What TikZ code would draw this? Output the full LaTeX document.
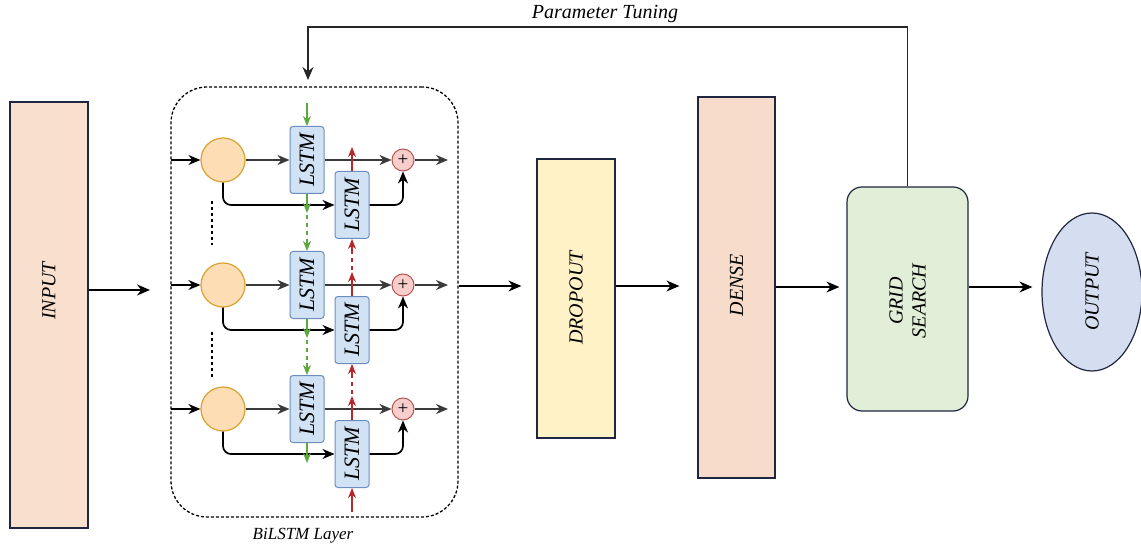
\documentclass[tikz,border=0pt]{standalone}
\usepackage{fontspec}
\setmainfont{Liberation Serif}
\usetikzlibrary{arrows.meta,calc,shapes.geometric}
\definecolor{navy}{HTML}{1F2740}
\definecolor{peach}{HTML}{F9E0CE}
\definecolor{peachb}{HTML}{F8DCCB}
\definecolor{yel}{HTML}{FFF2C6}
\definecolor{grn}{HTML}{E2EFD8}
\definecolor{blu}{HTML}{D5DEF0}
\definecolor{lstmf}{HTML}{D0E2F4}
\definecolor{lstmb}{HTML}{6C8EBF}
\definecolor{cellf}{HTML}{FDDDB4}
\definecolor{cellb}{HTML}{D9A232}
\definecolor{plusf}{HTML}{F8CECC}
\definecolor{plusb}{HTML}{B85450}
\definecolor{garrow}{HTML}{5CA83C}
\definecolor{rarrow}{HTML}{B8282A}
\definecolor{gline}{HTML}{3A3A3A}
\tikzset{
 blk/.style={draw=navy, line width=1.2pt, inner sep=0pt},
 flow/.style={draw=black, line width=1.3pt, -{Stealth[length=13pt,width=11pt]}},
 gflow/.style={draw=gline, line width=2.4pt, -{Stealth[length=12pt,width=10pt]}},
 bflow/.style={draw=black, line width=1.7pt, -{Stealth[length=12pt,width=10pt]}, rounded corners=8pt},
 grnarr/.style={draw=garrow, line width=1.4pt, -{Stealth[length=10pt,width=8pt]}},
 rdarr/.style={draw=rarrow, line width=1.4pt, -{Stealth[length=10pt,width=8pt]}},
 lstm/.style={draw=lstmb, fill=lstmf, line width=1pt, rounded corners=3pt, minimum width=34pt, minimum height=67pt, inner sep=0pt},
 cell/.style={circle, draw=cellb, fill=cellf, line width=1.2pt, minimum size=44pt, inner sep=0pt},
 plusnode/.style={circle, draw=plusb, fill=plusf, line width=1pt, minimum size=22pt, inner sep=0pt, font=\normalfont\fontsize{19}{19}\selectfont},
 vtxt/.style={rotate=90, align=center},
}
\begin{document}
\begin{tikzpicture}[x=1pt,y=-1pt, font=\fontsize{20}{23}\selectfont\itshape]
\useasboundingbox[fill=white] (0,0) rectangle (1141,548);

% main blocks
\node[blk, fill=peach, minimum width=78pt, minimum height=426pt] (input) at (49,315) {};
\node[vtxt] (inputtxt) at (49,291) {INPUT};
\node[draw=black, line width=1.3pt, dash pattern=on 3pt off 2pt, rounded corners=36pt, minimum width=287pt, minimum height=430pt] (bil) at (314.5,302) {};
\node (biltxt) at (303,536) {\fontsize{17}{20}\selectfont BiLSTM Layer};
\node[blk, fill=yel, minimum width=78pt, minimum height=279pt] (dropout) at (576,298.5) {};
\node[vtxt] (droptxt) at (576,298) {DROPOUT};
\node[blk, fill=peachb, minimum width=77pt, minimum height=381pt] (dense) at (736.5,287.5) {};
\node[vtxt] (densetxt) at (736.5,285) {DENSE};
\node[blk, fill=grn, rounded corners=15pt, minimum width=121pt, minimum height=224pt] (grid) at (907.5,299) {};
\node[vtxt] (gridtxt) at (907.5,301) {GRID\\SEARCH};
\node[blk, fill=blu, ellipse, minimum width=100pt, minimum height=158pt] (output) at (1092,292) {};
\node[vtxt] (outtxt) at (1092,292) {OUTPUT};
\node (ptune) at (605,14) {Parameter Tuning};

% main flow
\coordinate (bilin) at (150,290);
\coordinate (m) at (0,286);
\coordinate (m2) at (0,287);
\draw[flow] (input.east |- bilin) -- (bilin);
\draw[flow, shorten >=15pt] (bil.east |- m) -- (dropout.west |- m);
\draw[flow, shorten >=18pt] (dropout.east |- m) -- (dense.west |- m);
\draw[flow, shorten >=7pt] (dense.east |- m2) -- (grid.west |- m2);
\draw[flow, shorten >=9pt] (grid.east |- m2) -- (output.west |- m2);
\coordinate (fbtop) at (308,27);
\coordinate (fbtip) at (308,80);
\draw[flow, draw=black!85] (grid.north) |- (fbtop) -- (fbtip);

% BiLSTM internals
\foreach \i/\y in {1/160,2/285,3/409}{
  \node[cell] (c\i) at (223,\y) {};
  \node[lstm, label={[rotate=90,font=\fontsize{22}{24}\selectfont\itshape]center:LSTM}] (f\i) at (307,\y) {};
  \node[lstm, label={[rotate=90,font=\fontsize{22}{24}\selectfont\itshape]center:LSTM}] (b\i) at (352,\y+45) {};
  \node[plusnode] (p\i) at (403,\y) {+};
  \coordinate (in\i) at (171,\y);
  \coordinate (out\i) at (448,\y);
  \draw[bflow, line width=1.4pt] (in\i) -- (c\i.west);
  \draw[gflow] (c\i.east) -- (f\i.west);
  \draw[gflow] (f\i.east) -- (p\i.west);
  \draw[gflow] (p\i.east) -- (out\i);
  \draw[bflow] (c\i.south) |- (b\i.west);
  \draw[bflow] (b\i.east) -| (p\i.south);
  \draw[rdarr] (b\i.north) -- ++(0,-24);
}
\coordinate (gtop) at (307,103);
\draw[grnarr] (gtop) -- (f1.north);
\foreach \a/\b in {1/2,2/3}{
  \draw[grnarr] (f\a.south) -- ++(0,19);
  \draw[garrow, line width=1.4pt, dash pattern=on 4pt off 4pt] ($(f\a.south)+(0,21)$) -- ($(f\b.north)+(0,-12)$);
  \draw[grnarr] ($(f\b.north)+(0,-12)$) -- (f\b.north);
  \draw[rarrow, line width=1.4pt, dash pattern=on 4pt off 4pt] ($(b\b.north)+(0,-26)$) -- ($(b\a.south)+(0,12)$);
  \draw[rdarr] ($(b\a.south)+(0,12)$) -- (b\a.south);
}
\draw[grnarr] (f3.south) -- ++(0,20);
\coordinate (rbot) at (352,512);
\draw[rdarr] (rbot) -- (b3.south);
\coordinate (d1a) at (212,201);
\coordinate (d1b) at (212,245);
\coordinate (d2a) at (212,332);
\coordinate (d2b) at (212,377);
\draw[line width=1.6pt, dash pattern=on 3pt off 3pt] (d1a) -- (d1b);
\draw[line width=1.6pt, dash pattern=on 3pt off 3pt] (d2a) -- (d2b);
\end{tikzpicture}
\end{document}
